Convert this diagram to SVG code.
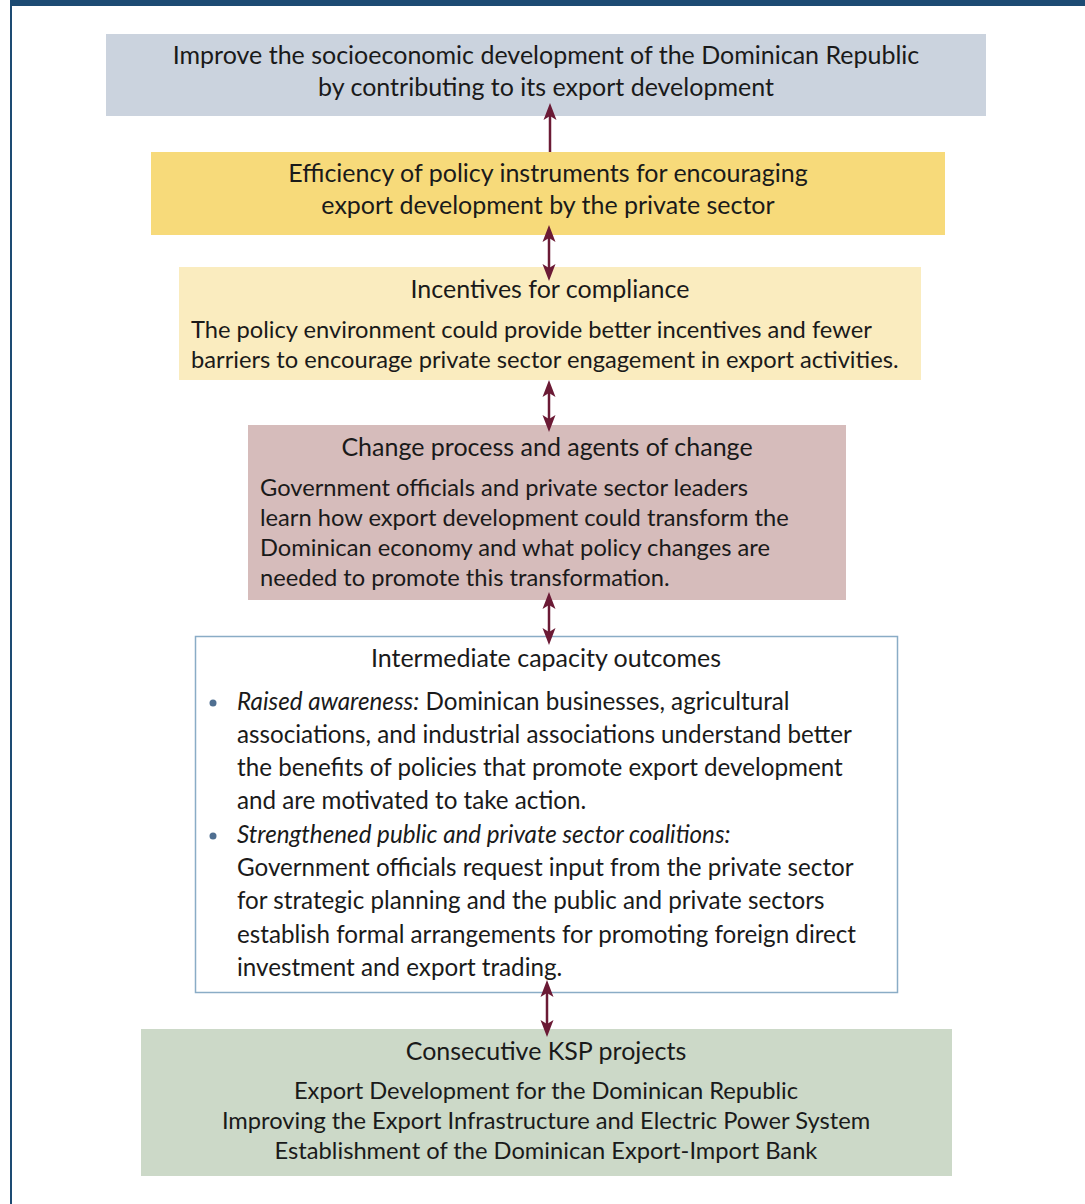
<svg xmlns="http://www.w3.org/2000/svg" width="1085" height="1204" viewBox="0 0 1085 1204">
<defs>
<style>
text{font-family:Lato,"Open Sans","Noto Sans",sans-serif;fill:#1a1a1a;font-size:23.7px}
.c{text-anchor:middle}
.t{font-size:25px}
.u{font-size:24.2px}
.i{font-style:italic}
.ar{stroke:#6b1a35;stroke-width:2.5;fill:none}
.hd{fill:#6b1a35}
</style>
<path id="hd" class="hd" d="M0,0 L6.5,17 L0,13 L-6.5,17 z"/>
</defs>
<rect x="0" y="0" width="1085" height="1204" fill="#fff"/>
<rect x="10" y="0" width="1075" height="6" fill="#1d4b73"/>
<rect x="10" y="0" width="2" height="1204" fill="#1d4b73"/>
<g id="n1"><rect x="106" y="34" width="880" height="82" fill="#cbd3de"/>
<text class="c t" x="546" y="64">Improve the socioeconomic development of the Dominican Republic</text>
<text class="c t" x="546" y="96">by contributing to its export development</text></g>
<g id="n2"><rect x="151" y="152" width="794" height="83" fill="#f7da7a"/>
<text class="c t" x="548" y="182">Efficiency of policy instruments for encouraging</text>
<text class="c t" x="548" y="214">export development by the private sector</text></g>
<g id="n3"><rect x="179" y="267" width="742" height="113" fill="#faecbf"/>
<text class="c t" x="550" y="298">Incentives for compliance</text>
<text x="191" y="338">The policy environment could provide better incentives and fewer</text>
<text x="191" y="368">barriers to encourage private sector engagement in export activities.</text></g>
<g id="n4"><rect x="248" y="425" width="598" height="175" fill="#d6bcbb"/>
<text class="c t" x="547" y="456">Change process and agents of change</text>
<text x="260" y="496">Government officials and private sector leaders</text>
<text x="260" y="526">learn how export development could transform the</text>
<text x="260" y="556">Dominican economy and what policy changes are</text>
<text x="260" y="586">needed to promote this transformation.</text></g>
<g id="n5"><rect x="195.5" y="636.5" width="702" height="356" fill="#fff" stroke="#8aacc6" stroke-width="1.5"/>
<text class="c t" x="546" y="667">Intermediate capacity outcomes</text>
<circle cx="213" cy="703" r="3.5" fill="#4f6f91"/>
<circle cx="213" cy="836" r="3.5" fill="#4f6f91"/>
<text class="u" x="237" y="710"><tspan class="i">Raised awareness:</tspan> Dominican businesses, agricultural</text>
<text class="u" x="237" y="743">associations, and industrial associations understand better</text>
<text class="u" x="237" y="776">the benefits of policies that promote export development</text>
<text class="u" x="237" y="809">and are motivated to take action.</text>
<text class="u i" x="237" y="843">Strengthened public and private sector coalitions:</text>
<text class="u" x="237" y="876">Government officials request input from the private sector</text>
<text class="u" x="237" y="909">for strategic planning and the public and private sectors</text>
<text class="u" x="237" y="943">establish formal arrangements for promoting foreign direct</text>
<text class="u" x="237" y="976">investment and export trading.</text></g>
<g id="n6"><rect x="141" y="1029" width="811" height="147" fill="#ccd9c8"/>
<text class="c t" x="546" y="1060">Consecutive KSP projects</text>
<text class="c" x="546" y="1099">Export Development for the Dominican Republic</text>
<text class="c" x="546" y="1129">Improving the Export Infrastructure and Electric Power System</text>
<text class="c" x="546" y="1159">Establishment of the Dominican Export-Import Bank</text></g>
<g id="connectors">
<line class="ar" x1="550" y1="152" x2="550" y2="115"/>
<use href="#hd" transform="translate(550,103)"/>
<line class="ar" x1="549" y1="238" x2="549" y2="268"/>
<use href="#hd" transform="translate(549,225)"/>
<use href="#hd" transform="translate(549,281) rotate(180)"/>
<line class="ar" x1="549" y1="393" x2="549" y2="419"/>
<use href="#hd" transform="translate(549,380)"/>
<use href="#hd" transform="translate(549,432) rotate(180)"/>
<line class="ar" x1="549" y1="605" x2="549" y2="632"/>
<use href="#hd" transform="translate(549,592)"/>
<use href="#hd" transform="translate(549,645) rotate(180)"/>
<line class="ar" x1="547" y1="993" x2="547" y2="1024"/>
<use href="#hd" transform="translate(547,980)"/>
<use href="#hd" transform="translate(547,1037) rotate(180)"/>
</g>
</svg>
